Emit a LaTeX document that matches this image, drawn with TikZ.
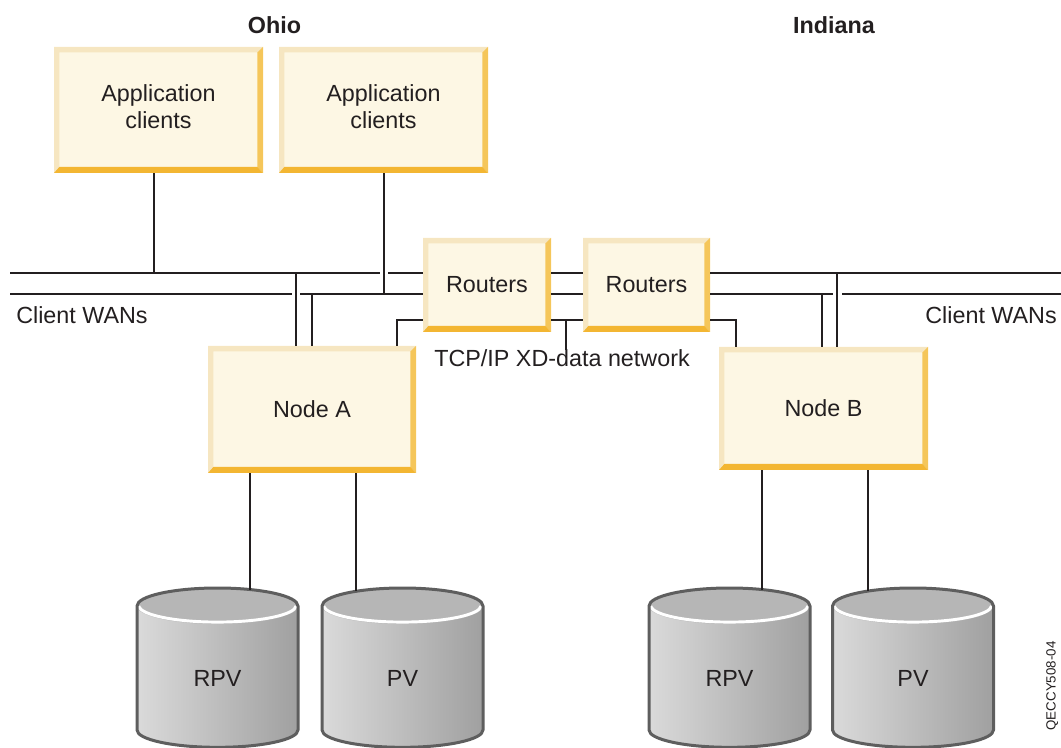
\documentclass[tikz,border=0pt]{standalone}
\usepackage{fontspec}
\setmainfont{Liberation Sans}
\definecolor{boxfill}{HTML}{FDF7E4}
\definecolor{bevlt}{HTML}{F6E6C1}
\definecolor{bevrt}{HTML}{F5C65A}
\definecolor{bevbt}{HTML}{F3B632}
\definecolor{linec}{HTML}{231F20}
\definecolor{diskedge}{HTML}{5E5E5E}
\definecolor{disktop}{HTML}{B6B6B6}
\definecolor{diskL}{HTML}{DADADA}
\definecolor{diskR}{HTML}{A0A0A0}
\newcommand\lbl{\fontsize{17.5}{20.25}\selectfont}
\newcommand\twoline[2]{\raisebox{2.6pt}{\begin{tabular}{@{}c@{}}#1\\#2\end{tabular}}}
\newcommand\drawdisk[5]{% #1 name, #2 cx, #3 label, #4 connector x, #5 connector y
  \shade[left color=diskL, right color=diskR]
    (#2-80.5,606) -- (#2-80.5,730)
    arc[start angle=180, end angle=360, x radius=60.375pt, y radius=13pt]
    -- (#2+80.5,606)
    arc[start angle=0, end angle=180, x radius=60.375pt, y radius=13.5pt] -- cycle;
  \fill[disktop] (#2,606) ellipse[x radius=60.375pt, y radius=13.5pt];
  \draw[white, line width=2.2pt]
    ([shift={(-59pt,0pt)}]#2,606) arc[start angle=182, end angle=358, x radius=59pt, y radius=12.5pt];
  \draw[diskedge, line width=2.25pt, line join=round]
    (#2-80.5,606) -- (#2-80.5,730)
    arc[start angle=180, end angle=360, x radius=60.375pt, y radius=13pt]
    -- (#2+80.5,606)
    arc[start angle=0, end angle=180, x radius=60.375pt, y radius=13.5pt] -- cycle;
  \node[font=\lbl, text=linec] (#1) at (#2,678) {#3};
  \coordinate (#1top) at (#4,#5);
}
\tikzset{
  bevbox/.style={rectangle, inner sep=0pt, fill=boxfill, align=center, font=\lbl, text=linec,
    path picture={
      \path (path picture bounding box.south west) coordinate (pSW)
            (path picture bounding box.north east) coordinate (pNE)
            (path picture bounding box.north west) coordinate (pNW)
            (path picture bounding box.south east) coordinate (pSE);
      \fill[bevlt] (pSW) -- (pNW) -- (pNE) -- ([shift={(-4.2pt,-4pt)}]pNE)
        -- ([shift={(4pt,-4pt)}]pNW) -- ([shift={(4pt,4.5pt)}]pSW) -- cycle;
      \fill[bevrt] (pNE) -- (pSE) -- ([shift={(-4.2pt,4.5pt)}]pSE) -- ([shift={(-4.2pt,-4pt)}]pNE) -- cycle;
      \fill[bevbt] (pSW) -- (pSE) -- ([shift={(-4.2pt,4.5pt)}]pSE) -- ([shift={(4pt,4.5pt)}]pSW) -- cycle;
    }},
  wire/.style={draw=linec, line width=1.45pt},
  plain/.style={font=\lbl, text=linec, inner sep=0pt},
  region/.style={font=\lbl\bfseries, text=linec, inner sep=0pt}
}
\begin{document}
\begin{tikzpicture}[x=0.75pt, y=-0.75pt]
\useasboundingbox (0,0) rectangle (1061,748);

% region labels
\node[region] (ohio) at (274.5,25) {Ohio};
\node[region] (indiana) at (834,25) {Indiana};

% boxes
\node[bevbox, minimum width=156.75pt, minimum height=94.5pt] (app1) at (158.5,110) {\twoline{Application}{clients}};
\node[bevbox, minimum width=156.75pt, minimum height=94.5pt] (app2) at (383.5,110) {\twoline{Application}{clients}};
\node[bevbox, minimum width=96pt, minimum height=70.5pt] (r1) at (487,285) {Routers};
\node[bevbox, minimum width=95.25pt, minimum height=70.5pt] (r2) at (646.5,285) {Routers};
\node[bevbox, minimum width=156pt, minimum height=95.25pt] (nA) at (312,409.5) {Node A};
\node[bevbox, minimum width=156.75pt, minimum height=92.25pt] (nB) at (823.5,408.5) {Node B};

% labels
\node[plain, anchor=west] (wanL) at (16,315) {Client WANs};
\node[plain, anchor=east] (wanR) at (1057,315) {Client WANs};
\node[plain] (tcp) at (562,358.5) {TCP/IP XD-data network};

% network coordinates
\coordinate (UL) at (10,273);
\coordinate (LL) at (10,294);
\coordinate (UR) at (1061,273);
\coordinate (LR) at (1061,294);
\coordinate (TC) at (566,320);

% WAN lines, left
\draw[wire] (UL) -- (380,273);
\draw[wire] (388,273) -- (r1.west |- UL);
\draw[wire] (LL) -- (292,294);
\draw[wire] (300,294) -- (r1.west |- LL);
% between routers
\draw[wire] (r1.east |- UL) -- (r2.west |- UL);
\draw[wire] (r1.east |- LL) -- (r2.west |- LL);
\draw[wire] (r1.east |- TC) -- (r2.west |- TC);
% right
\draw[wire] (r2.east |- UR) -- (UR);
\draw[wire] (r2.east |- LR) -- (833,294);
\draw[wire] (842,294) -- (LR);

% drops
\coordinate (ja1) at (154,273);
\coordinate (ja2) at (384,294);
\draw[wire] (app1.south -| ja1) -- (ja1);
\draw[wire] (app2.south -| ja2) -- (ja2);
\coordinate (jA1) at (296,273);
\coordinate (jA2) at (312,294);
\draw[wire] (jA1) -- (nA.north -| jA1);
\draw[wire] (jA2) -- (nA.north -| jA2);
\coordinate (jB1) at (837,273);
\coordinate (jB2) at (822,294);
\draw[wire] (jB1) -- (nB.north -| jB1);
\draw[wire] (jB2) -- (nB.north -| jB2);

% TCP/IP network
\coordinate (tA) at (397,320);
\coordinate (tB) at (736,320);
\draw[wire] (r1.west |- tA) -- (tA) -- (nA.north -| tA);
\draw[wire] (r2.east |- tB) -- (tB) -- (nB.north -| tB);
\draw[wire] (TC) -- (tcp.north -| TC);

% disks
\drawdisk{d1}{217.5}{RPV}{250}{590}
\drawdisk{d2}{402.5}{PV}{356}{591}
\drawdisk{d3}{729.5}{RPV}{762}{590}
\drawdisk{d4}{913}{PV}{868}{591}

\draw[wire] (nA.south -| d1top) -- (d1top);
\draw[wire] (nA.south -| d2top) -- (d2top);
\draw[wire] (nB.south -| d3top) -- (d3top);
\draw[wire] (nB.south -| d4top) -- (d4top);

% figure id
\node[rotate=90, anchor=north, inner sep=0pt, font=\fontsize{10}{12}\selectfont, text=linec] (figid) at (1046,686) {QECCY508-04};
\end{tikzpicture}
\end{document}
